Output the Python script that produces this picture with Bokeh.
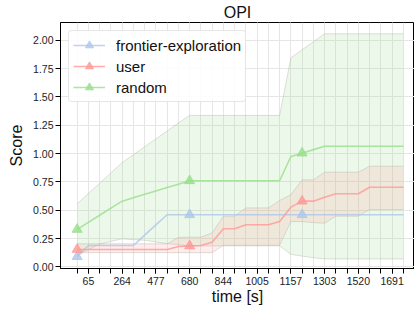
from bokeh.plotting import figure
from bokeh.models import FixedTicker, Legend, LegendItem, ColumnDataSource, NumeralTickFormatter, Range1d
from bokeh.embed import file_html
from bokeh.resources import INLINE

# ---- data ----
steps = list(range(30))
tick_steps = [1, 4, 7, 10, 13, 16, 19, 22, 25, 28]
tick_labels = ["65", "264", "477", "680", "844", "1005", "1157", "1303", "1520", "1691"]
marker_steps = [0, 10, 20]

frontier_mean = [0.09, 0.188, 0.188, 0.188, 0.188, 0.188, 0.28, 0.37] + [0.46] * 22

user_mean = [0.153] * 9 + [0.18, 0.185, 0.188, 0.217, 0.336, 0.336, 0.371, 0.371, 0.371,
                           0.40, 0.527, 0.58, 0.58, 0.615, 0.645, 0.645, 0.645,
                           0.703, 0.703, 0.703, 0.703]
user_hi = [0.203] * 9 + [0.26, 0.262, 0.262, 0.30, 0.447, 0.447, 0.52, 0.52, 0.52,
                         0.586, 0.636, 0.768, 0.768, 0.836, 0.836, 0.836, 0.836,
                         0.889, 0.889, 0.889, 0.889]
user_lo = [0.125] * 13 + [0.19] * 6 + [0.40, 0.40, 0.39, 0.385, 0.447, 0.447, 0.447,
                                        0.506, 0.506, 0.506, 0.506]

random_mean = [0.33, 0.393, 0.455, 0.518, 0.58, 0.61, 0.64, 0.67, 0.70, 0.73] + [0.76] * 9 + \
              [0.974, 1.004, 1.035] + [1.065] * 8
random_hi = [0.556, 0.647, 0.738, 0.829, 0.92, 0.99, 1.06, 1.13, 1.20, 1.27] + [1.337] * 9 + \
            [1.846, 1.917, 1.987] + [2.058] * 8
random_lo = [0.105, 0.15, 0.20, 0.225, 0.247, 0.24, 0.235, 0.22, 0.205, 0.195] + [0.185] * 9 + \
            [0.11, 0.095, 0.08] + [0.07] * 8

series = [
    ("frontier-exploration", frontier_mean, None, None, "#aec7e8"),
    ("user", user_mean, user_lo, user_hi, "#ff9896"),
    ("random", random_mean, random_lo, random_hi, "#98df8a"),
]

FONT = "Liberation Sans"
X0, X1 = -1.48, 29.99
Y0, Y1 = -0.015, 2.158

p = figure(width=414, height=310, output_backend="svg", toolbar_location=None,
           x_range=Range1d(X0, X1), y_range=Range1d(Y0, Y1),
           min_border_left=60, min_border_right=0, min_border_top=22, min_border_bottom=42)
p.outline_line_color = "black"
p.outline_line_width = 1

p.title.text = "OPI"
p.title.align = "center"
p.title.text_font = FONT
p.title.text_font_size = "16px"
p.title.text_font_style = "normal"
p.title.text_color = "#111111"
p.title.standoff = 3

# bands
for name, m, lo, hi, col in series[::-1]:
    if lo is None:
        continue
    src = ColumnDataSource(dict(x=steps, lo=lo, hi=hi))
    p.varea(x="x", y1="lo", y2="hi", source=src, fill_color=col, fill_alpha=0.18)
    p.line(x="x", y="lo", source=src, line_color="#b8b8b0", line_alpha=0.45, line_width=1)
    p.line(x="x", y="hi", source=src, line_color="#b8b8b0", line_alpha=0.45, line_width=1)

items = []
for name, m, lo, hi, col in series:
    src = ColumnDataSource(dict(x=steps, y=m))
    ln = p.line(x="x", y="y", source=src, line_color=col, line_width=1.6, line_alpha=0.8)
    msrc = ColumnDataSource(dict(x=marker_steps, y=[m[i] for i in marker_steps]))
    mk = p.scatter(x="x", y="y", source=msrc, marker="triangle", size=10,
                   fill_color=col, line_color=col, fill_alpha=0.8, line_alpha=0.8)
    items.append(LegendItem(label=name, renderers=[ln, mk]))

legend = Legend(items=items, location="top_left", margin=8, padding=4, spacing=1,
                glyph_width=32, glyph_height=20, label_height=20, label_standoff=11,
                label_text_font=FONT, label_text_font_size="15px", label_text_color="#111111",
                border_line_color="#d0d0d0", border_line_width=1, border_radius=4,
                background_fill_color="white", background_fill_alpha=0.85)
p.add_layout(legend)

# axes
p.xaxis.ticker = FixedTicker(ticks=tick_steps, minor_ticks=steps)
p.xaxis.major_label_overrides = {t: l for t, l in zip(tick_steps, tick_labels)}
p.yaxis.ticker = FixedTicker(ticks=[0, 0.25, 0.5, 0.75, 1.0, 1.25, 1.5, 1.75, 2.0])
p.yaxis.formatter = NumeralTickFormatter(format="0.00")
p.xaxis.axis_label = "time [s]"
p.yaxis.axis_label = "Score"
for ax in (p.xaxis, p.yaxis):
    ax.axis_line_color = "black"
    ax.major_tick_line_color = "black"
    ax.minor_tick_line_color = "black"
    ax.major_tick_out = 5
    ax.major_tick_in = 0
    ax.major_label_text_font = FONT
    ax.major_label_text_font_size = "10.5px"
    ax.major_label_text_color = "#222222"
    ax.axis_label_text_font = FONT
    ax.axis_label_text_font_size = "16px"
    ax.axis_label_text_font_style = "normal"
    ax.axis_label_text_color = "#111111"
p.xaxis.minor_tick_out = 5
p.xaxis.minor_tick_in = 0
p.yaxis.minor_tick_line_color = None
p.xaxis.major_label_standoff = 3
p.xaxis.axis_label_standoff = 0
p.yaxis.major_label_standoff = 2
p.yaxis.axis_label_standoff = 5

p.xgrid.ticker = FixedTicker(ticks=tick_steps, minor_ticks=steps)
p.xgrid.grid_line_color = "#e6e6e6"
p.xgrid.minor_grid_line_color = "#e6e6e6"
p.ygrid.grid_line_color = "#e6e6e6"

open("out.html", "w").write(file_html(p, INLINE))
